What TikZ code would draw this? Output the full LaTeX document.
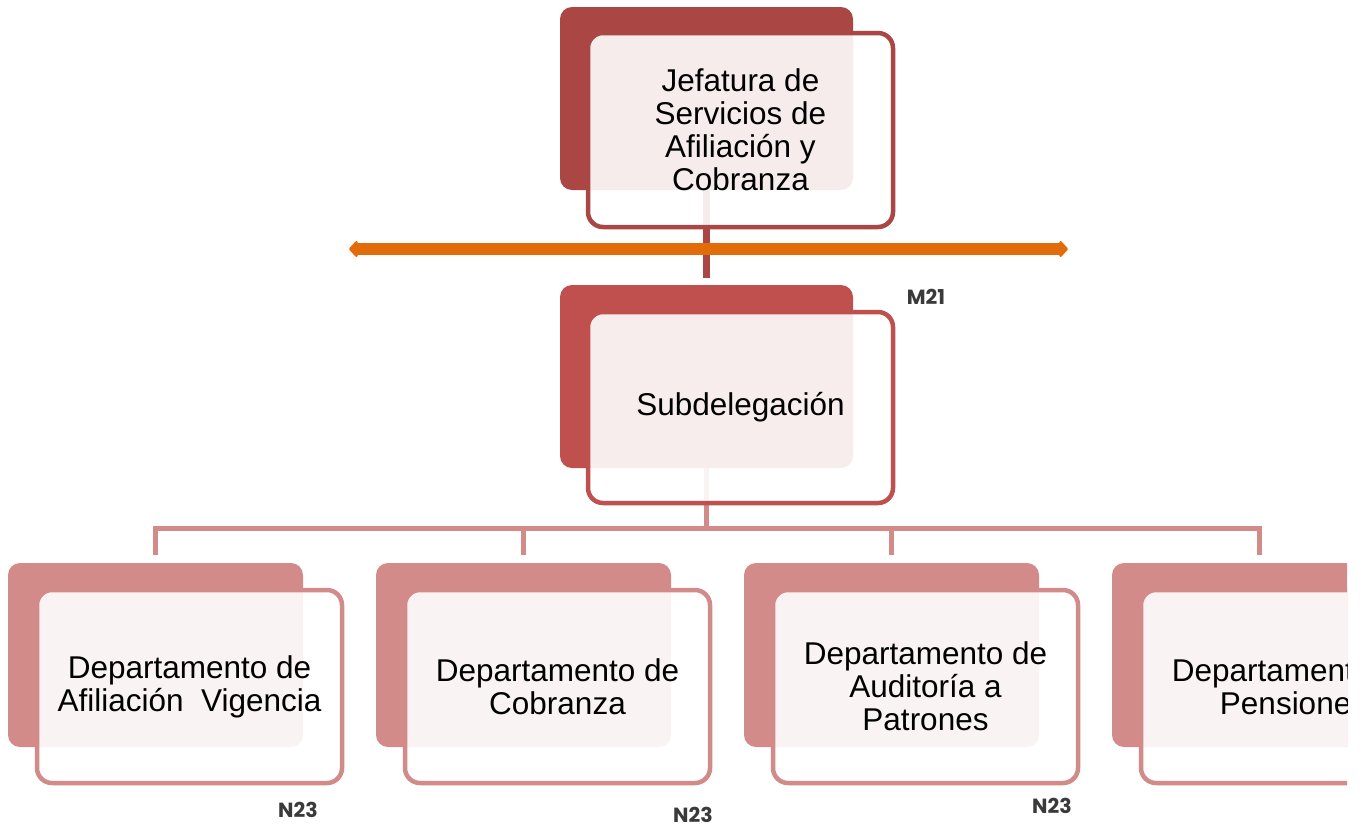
\documentclass[tikz,border=0pt]{standalone}
\usepackage{fontspec}
\setmainfont{Liberation Sans}
\newfontfamily\labfont{Poppins}
\usetikzlibrary{arrows.meta}
\definecolor{cTop}{HTML}{AA4643}
\definecolor{cSub}{HTML}{C0504D}
\definecolor{cDep}{HTML}{D38B89}
\definecolor{cOrange}{HTML}{E36C0A}
\definecolor{cLab}{HTML}{3A3A3A}
\tikzset{
  backbox/.style={fill=#1, rounded corners=12pt, minimum width=293pt, minimum height=183pt, inner sep=0pt},
  frontbox/.style={draw=#1, line width=4.5pt, fill=white, fill opacity=0.9, text opacity=1,
    rounded corners=15pt, minimum width=305pt, minimum height=193pt, inner sep=0pt,
    align=center, font=\fontsize{31.5}{33}\selectfont, text=black},
  toplink/.style={draw=cTop, line width=6.5pt},
  buslink/.style={draw=cDep, line width=5pt},
  levellab/.style={font=\labfont\bfseries\fontsize{20.5}{21}\selectfont, text=cLab, inner sep=0pt},
  levelarrow/.style={draw=cOrange, line width=11.5pt, {Triangle[length=9pt,width=19pt,round]}-{Triangle[length=9pt,width=19pt,round]}}
}
\begin{document}
\begin{tikzpicture}[x=1pt,y=-1pt]
\useasboundingbox (0,0) rectangle (1363,831);
\clip (0,0) rectangle (1347,831);

% back panels
\node[backbox=cTop] (jefback) at (706.5,98.5) {};
\node[backbox=cSub] (subback) at (706.5,376.5) {};
\node[backbox=cDep, minimum width=295pt, minimum height=184pt] (d1back) at (155.5,655) {};
\node[backbox=cDep, minimum width=295pt, minimum height=184pt] (d2back) at (523.5,655) {};
\node[backbox=cDep, minimum width=295pt, minimum height=184pt] (d3back) at (891.5,655) {};
\node[backbox=cDep, minimum width=295pt, minimum height=184pt] (d4back) at (1259.5,655) {};

% connectors (beneath the front panels)
\draw[toplink, shorten >=7pt] (jefback.south) -- (subback.north);
\coordinate (bus) at (706.5,528);
\coordinate (t1) at ([yshift=8pt]d1back.north);
\coordinate (t2) at ([yshift=8pt]d2back.north);
\coordinate (t3) at ([yshift=8pt]d3back.north);
\coordinate (t4) at ([yshift=8pt]d4back.north);
\draw[buslink] (subback.south) -- (bus);
\draw[buslink] (t1) |- (bus) -| (t4);
\draw[buslink] (t2) -- (t2 |- bus);
\draw[buslink] (t3) -- (t3 |- bus);

% front panels
\node[frontbox=cTop, minimum height=194pt] (jef) at (740.5,130) {Jefatura de\\Servicios de\\Afiliación y\\Cobranza};
\node[frontbox=cSub, minimum height=191pt] (sub) at (740.5,407.5) {Subdelegación};
\node[frontbox=cDep] (d1) at (189.5,686.5) {Departamento de\\Afiliación\ \ Vigencia};
\node[frontbox=cDep] (d2) at (557.5,686.5) {Departamento de\\Cobranza};
\node[frontbox=cDep] (d3) at (925.5,686.5) {Departamento de\\Auditoría a\\Patrones};
\node[frontbox=cDep] (d4) at (1293.5,686.5) {Departamento de\\Pensiones};

% level arrow
\coordinate (arrL) at (349,249);
\coordinate (arrR) at (1068,249);
\draw[levelarrow] (arrL) -- (arrR);

% level labels
\node[levellab] (m21) at (926,297) {M21};
\node[levellab] (n1) at (298,810) {N23};
\node[levellab] (n2) at (693,815) {N23};
\node[levellab] (n3) at (1052,806) {N23};
\end{tikzpicture}
\end{document}
